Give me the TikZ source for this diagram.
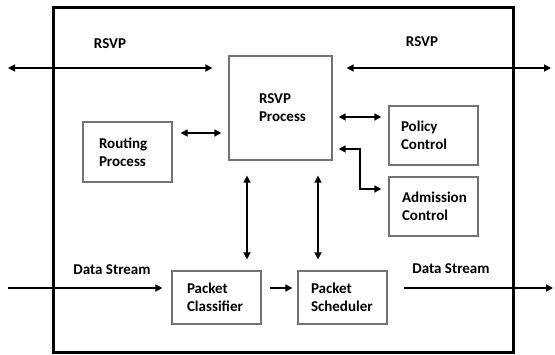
\documentclass[tikz,border=0pt]{standalone}
\usepackage{fontspec}
\setmainfont{Carlito}
\usetikzlibrary{calc, arrows.meta}

\begin{document}
\begin{tikzpicture}[x = 1pt, y = -1pt,
	box/.style = {draw = black!55, line width = 1.2pt, align = left, inner xsep = 13pt, text width = 63pt, minimum width = 89pt, font = \fontsize{15}{18}\selectfont\bfseries},
	lbl/.style = {font = \fontsize{15}{18}\selectfont\bfseries},
	arr/.style = {line width = 1.5pt, -{Triangle[length = 7pt, width = 7pt]}},
	dbl/.style = {line width = 1.5pt, {Triangle[length = 7pt, width = 7pt]}-{Triangle[length = 7pt, width = 7pt]}}]
\useasboundingbox (0, 0) rectangle (555, 354);
\draw[line width = 3pt] (53, 7) rectangle (513, 352);
\node[box, inner xsep = 30pt, text width = 43pt, minimum width = 103pt, minimum height = 104pt] (rsvp) at (280.5, 108) {RSVP\\Process\\[-2pt]};
\node[box, inner xsep = 16pt, text width = 57pt, minimum height = 60pt] (routing) at (127.5, 152) {Routing\\Process};
\node[box, inner xsep = 12pt, text width = 65pt, minimum height = 59pt] (policy) at (433.5, 135.5) {Policy\\Control};
\node[box, minimum height = 59pt] (admission) at (433.5, 206.5) {Admission\\Control};
\node[box, inner xsep = 15pt, text width = 59pt, minimum height = 53pt] (classifier) at (216.5, 297.5) {Packet\\Classifier};
\node[box, minimum height = 53pt] (scheduler) at (342.5, 297.5) {Packet\\Scheduler};
\node[lbl] (rsvpL) at (110, 44) {RSVP};
\node[lbl] (rsvpR) at (422, 42) {RSVP};
\node[lbl] (dataL) at (112, 270) {Data Stream};
\node[lbl] (dataR) at (451, 269) {Data Stream};
\coordinate (inL) at (8, 68);
\coordinate (outR) at (551, 68);
\coordinate (dataIn) at (8, 288);
\coordinate (dataOut) at (553, 288);
\coordinate (bend) at (360, 149);
\draw[dbl, shorten > = 16pt] (inL) -- (rsvp.west |- inL);
\draw[dbl, shorten < = 14pt] (rsvp.east |- outR) -- (outR);
\draw[dbl, shorten < = 8pt, shorten > = 7pt] (routing.east |- 0, 133) -- (rsvp.west |- 0, 133);
\draw[dbl, shorten < = 6pt, shorten > = 7pt] (rsvp.east |- 0, 117) -- (policy.west |- 0, 117);
\draw[dbl, shorten < = 6pt, shorten > = 7pt] (rsvp.east |- bend) -- (bend) -- (bend |- 0, 189) -- (admission.west |- 0, 189);
\draw[dbl, shorten < = 15pt, shorten > = 11pt] (rsvp.south -| 247, 0) -- (classifier.north -| 247, 0);
\draw[dbl, shorten < = 15pt, shorten > = 11pt] (rsvp.south -| 318, 0) -- (scheduler.north -| 318, 0);
\draw[arr, shorten > = 9pt] (dataIn) -- (classifier.west |- dataIn);
\draw[arr, shorten < = 8pt, shorten > = 5pt] (classifier.east |- dataIn) -- (scheduler.west |- dataIn);
\draw[arr, shorten < = 16pt] (scheduler.east |- dataOut) -- (dataOut);
\end{tikzpicture}
\end{document}
